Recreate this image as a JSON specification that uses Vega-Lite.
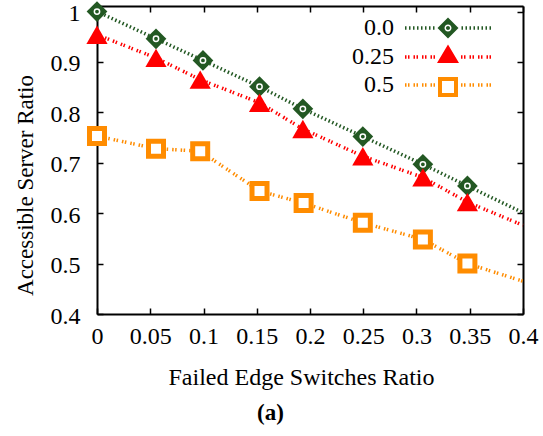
{
  "$schema": "https://vega.github.io/schema/vega-lite/v6.json",
  "width": 426,
  "height": 308,
  "autosize": "none",
  "padding": {"left": 97, "top": 6, "right": 20, "bottom": 122},
  "background": "white",
  "config": {
    "view": {"stroke": null},
    "font": "Liberation Serif",
    "axis": {
      "domainColor": "black", "domainWidth": 2,
      "tickColor": "black", "tickWidth": 1.5, "tickSize": -6,
      "grid": false,
      "labelFont": "Liberation Serif", "labelFontSize": 24, "labelColor": "black",
      "labelFlush": false, "labelOverlap": false,
      "titleFont": "Liberation Serif", "titleFontSize": 24, "titleFontWeight": "normal", "titleColor": "black"
    }
  },
  "data": {"values": [
    {"s": "0.0", "x": 0, "y": 1.0},
    {"s": "0.0", "x": 0.0554, "y": 0.946},
    {"s": "0.0", "x": 0.0995, "y": 0.903},
    {"s": "0.0", "x": 0.1526, "y": 0.851},
    {"s": "0.0", "x": 0.1933, "y": 0.807},
    {"s": "0.0", "x": 0.2496, "y": 0.752},
    {"s": "0.0", "x": 0.306, "y": 0.697},
    {"s": "0.0", "x": 0.3478, "y": 0.654},
    {"s": "0.0", "x": 0.4, "y": 0.601},
    {"s": "0.25", "x": 0, "y": 0.954},
    {"s": "0.25", "x": 0.0554, "y": 0.908},
    {"s": "0.25", "x": 0.0969, "y": 0.865},
    {"s": "0.25", "x": 0.1526, "y": 0.819},
    {"s": "0.25", "x": 0.1933, "y": 0.767},
    {"s": "0.25", "x": 0.2496, "y": 0.713},
    {"s": "0.25", "x": 0.306, "y": 0.671},
    {"s": "0.25", "x": 0.3478, "y": 0.622},
    {"s": "0.25", "x": 0.4, "y": 0.576},
    {"s": "0.5", "x": 0, "y": 0.753},
    {"s": "0.5", "x": 0.0554, "y": 0.728},
    {"s": "0.5", "x": 0.0969, "y": 0.723},
    {"s": "0.5", "x": 0.1526, "y": 0.644},
    {"s": "0.5", "x": 0.194, "y": 0.620},
    {"s": "0.5", "x": 0.2496, "y": 0.581},
    {"s": "0.5", "x": 0.306, "y": 0.548},
    {"s": "0.5", "x": 0.3478, "y": 0.500},
    {"s": "0.5", "x": 0.4, "y": 0.465}
  ]},
  "layer": [
    {
      "mark": {"type": "line", "strokeWidth": 3.5, "strokeCap": "butt"},
      "encoding": {
        "x": {"field": "x", "type": "quantitative",
              "scale": {"domain": [0, 0.4], "nice": false, "zero": false},
              "axis": {"orient": "bottom", "values": [0, 0.05, 0.1, 0.15, 0.2, 0.25, 0.3, 0.35, 0.4], "format": "~g",
                       "labelPadding": 16, "title": "Failed Edge Switches Ratio",
                       "titleX": 204, "titleY": 70, "titleAlign": "center", "titleBaseline": "alphabetic"}},
        "y": {"field": "y", "type": "quantitative",
              "scale": {"domain": [0.4, 1.011], "nice": false, "zero": false},
              "axis": {"orient": "left", "values": [0.4, 0.5, 0.6, 0.7, 0.8, 0.9, 1.0], "format": "~g",
                       "labelPadding": 23, "labelOffset": 2, "title": "Accessible Server Ratio",
                       "titleFontSize": 23,
                       "titleX": -72, "titleY": 179, "titleAlign": "center", "titleBaseline": "middle", "titleAngle": -90}},
        "color": {"field": "s", "type": "nominal",
                  "scale": {"domain": ["0.0", "0.25", "0.5"], "range": ["#235823", "#ff0000", "#ff8c00"]},
                  "legend": null},
        "strokeDash": {"field": "s", "type": "nominal",
                       "scale": {"domain": ["0.0", "0.25", "0.5"], "range": [[1.5, 2.5], [1.5, 1.5, 1.5, 4], [1.5, 1.5, 1.5, 4]]},
                       "legend": null}
      }
    },
    {
      "transform": [{"filter": "datum.s == '0.0' && datum.x < 0.39"}],
      "mark": {"type": "point", "shape": "diamond", "filled": true, "size": 430, "color": "#235823", "opacity": 1},
      "encoding": {
        "x": {"field": "x", "type": "quantitative",
              "axis": {"orient": "top", "values": [0, 0.05, 0.1, 0.15, 0.2, 0.25, 0.3, 0.35, 0.4], "labels": false, "title": null}},
        "y": {"field": "y", "type": "quantitative",
              "axis": {"orient": "right", "values": [0.4, 0.5, 0.6, 0.7, 0.8, 0.9, 1.0], "labels": false, "title": null}}
      }
    },
    {
      "transform": [{"filter": "datum.s == '0.0' && datum.x < 0.39"}],
      "mark": {"type": "point", "shape": "circle", "filled": false, "size": 28, "stroke": "white", "strokeWidth": 1.5, "opacity": 1},
      "encoding": {
        "x": {"field": "x", "type": "quantitative",
              "axis": {"orient": "bottom", "domain": false, "ticks": false, "labels": false,
                       "title": "(a)", "titleFontWeight": "bold", "titleFontSize": 23,
                       "titleX": 173, "titleY": 105, "titleAlign": "center", "titleBaseline": "alphabetic"}},
        "y": {"field": "y", "type": "quantitative", "axis": null}
      }
    },
    {
      "transform": [{"filter": "datum.s == '0.25' && datum.x < 0.39"}],
      "mark": {"type": "point", "shape": "triangle-up", "filled": true, "size": 450, "color": "#ff0000", "opacity": 1},
      "encoding": {
        "x": {"field": "x", "type": "quantitative", "axis": null},
        "y": {"field": "y", "type": "quantitative", "axis": null}
      }
    },
    {
      "transform": [{"filter": "datum.s == '0.5' && datum.x < 0.39"}],
      "mark": {"type": "point", "shape": "square", "filled": false, "size": 225, "fill": "white", "fillOpacity": 1, "stroke": "#ff8c00", "strokeWidth": 5, "opacity": 1},
      "encoding": {
        "x": {"field": "x", "type": "quantitative", "axis": null},
        "y": {"field": "y", "type": "quantitative", "axis": null}
      }
    },
    {
      "transform": [{"filter": "datum.x == 0"}],
      "mark": {"type": "point", "filled": true, "strokeWidth": 0, "size": 0},
      "encoding": {
        "x": {"field": "x", "type": "quantitative", "axis": null},
        "y": {"field": "y", "type": "quantitative", "axis": null},
        "color": {"field": "s", "type": "nominal",
                  "scale": {"domain": ["0.0", "0.25", "0.5"], "range": ["#235823", "#ff0000", "#ff8c00"]},
                  "legend": {"orient": "none", "legendX": 339, "legendY": 10, "title": null, "padding": 0,
                             "labelAlign": "right", "labelBaseline": "middle", "labelOffset": -66,
                             "labelFont": "Liberation Serif", "labelFontSize": 24, "labelColor": "black",
                             "symbolSize": 400, "symbolStrokeWidth": 0, "symbolOpacity": 1, "rowPadding": 4}},
        "shape": {"field": "s", "type": "nominal",
                  "legend": {"orient": "none", "legendX": 339, "legendY": 10, "title": null, "padding": 0,
                             "labelAlign": "right", "labelBaseline": "middle", "labelOffset": -66,
                             "labelFont": "Liberation Serif", "labelFontSize": 24, "labelColor": "black",
                             "symbolSize": 400, "symbolStrokeWidth": 0, "symbolOpacity": 1, "rowPadding": 4},
                  "scale": {"domain": ["0.0", "0.25", "0.5"], "range": [
                    "M-4.3 -0.175h0.15v0.35h-0.15zM-3.9 -0.175h0.15v0.35h-0.15zM-3.5 -0.175h0.15v0.35h-0.15zM-3.1 -0.175h0.15v0.35h-0.15zM-2.7 -0.175h0.15v0.35h-0.15zM-2.3 -0.175h0.15v0.35h-0.15zM-1.9 -0.175h0.15v0.35h-0.15zM-1.5 -0.175h0.15v0.35h-0.15zM1.35 -0.175h0.15v0.35h-0.15zM1.75 -0.175h0.15v0.35h-0.15zM2.15 -0.175h0.15v0.35h-0.15zM2.55 -0.175h0.15v0.35h-0.15zM2.95 -0.175h0.15v0.35h-0.15zM3.35 -0.175h0.15v0.35h-0.15zM3.75 -0.175h0.15v0.35h-0.15zM4.15 -0.175h0.15v0.35h-0.15zM0 -1.05L1.05 0L0 1.05L-1.05 0zM0.35 0A0.35 0.35 0 1 0 -0.35 0A0.35 0.35 0 1 0 0.35 0zM0.2 0A0.2 0.2 0 1 1 -0.2 0A0.2 0.2 0 1 1 0.2 0z",
                    "M-4.3 -0.175h0.15v0.35h-0.15zM-4 -0.175h0.15v0.35h-0.15zM-3.45 -0.175h0.15v0.35h-0.15zM-3.15 -0.175h0.15v0.35h-0.15zM-2.6 -0.175h0.15v0.35h-0.15zM-2.3 -0.175h0.15v0.35h-0.15zM-1.75 -0.175h0.15v0.35h-0.15zM-1.45 -0.175h0.15v0.35h-0.15zM1.3 -0.175h0.15v0.35h-0.15zM1.6 -0.175h0.15v0.35h-0.15zM2.15 -0.175h0.15v0.35h-0.15zM2.45 -0.175h0.15v0.35h-0.15zM3 -0.175h0.15v0.35h-0.15zM3.3 -0.175h0.15v0.35h-0.15zM3.85 -0.175h0.15v0.35h-0.15zM4.15 -0.175h0.15v0.35h-0.15zM0 -1.26L1.1 0.6L-1.1 0.6z",
                    "M-4.3 -0.175h0.15v0.35h-0.15zM-4 -0.175h0.15v0.35h-0.15zM-3.45 -0.175h0.15v0.35h-0.15zM-3.15 -0.175h0.15v0.35h-0.15zM-2.6 -0.175h0.15v0.35h-0.15zM-2.3 -0.175h0.15v0.35h-0.15zM-1.75 -0.175h0.15v0.35h-0.15zM-1.45 -0.175h0.15v0.35h-0.15zM1.3 -0.175h0.15v0.35h-0.15zM1.6 -0.175h0.15v0.35h-0.15zM2.15 -0.175h0.15v0.35h-0.15zM2.45 -0.175h0.15v0.35h-0.15zM3 -0.175h0.15v0.35h-0.15zM3.3 -0.175h0.15v0.35h-0.15zM3.85 -0.175h0.15v0.35h-0.15zM4.15 -0.175h0.15v0.35h-0.15zM-1 -0.8H1V1.2H-1zM-0.6 -0.4V0.8H0.6V-0.4z"
                  ]}}
      }
    }
  ],
  "resolve": {"axis": {"x": "independent", "y": "independent"}, "scale": {"color": "independent", "shape": "independent"}}
}
